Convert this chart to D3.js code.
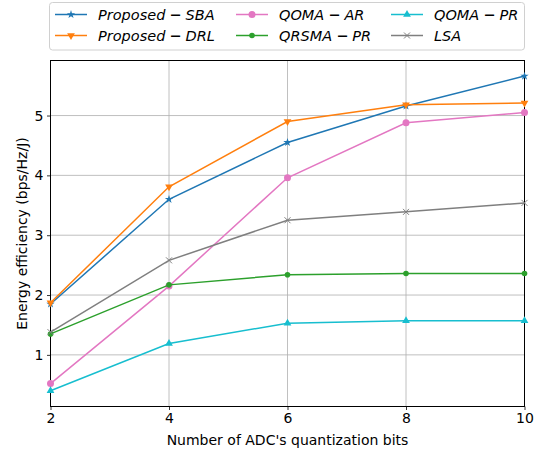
<!DOCTYPE html>
<html>
<head>
<meta charset="utf-8">
<script src="https://cdn.jsdelivr.net/npm/d3@7"></script>
<style>
  body { margin: 0; background: #fff; }
  text { font-family: "DejaVu Sans", sans-serif; fill: #000; }
</style>
</head>
<body>
<svg id="chart" width="546" height="452"></svg>
<script>
// data
var bits = [2, 4, 6, 8, 10];
var sba = [1.85, 3.60, 4.55, 5.16, 5.66];
var drl = [1.87, 3.81, 4.90, 5.18, 5.21];
var qomaAR = [0.52, 2.15, 3.96, 4.88, 5.05];
var qrsmaPR = [1.35, 2.17, 2.34, 2.36, 2.36];
var qomaPR = [0.40, 1.19, 1.53, 1.57, 1.57];
var lsa = [1.38, 2.58, 3.25, 3.39, 3.54];
var xTicks = [2, 4, 6, 8, 10];
var yTicks = [1, 2, 3, 4, 5];

var series = [
  {a: "Proposed", b: "SBA", vals: sba, color: "#1f77b4", marker: "star"},
  {a: "Proposed", b: "DRL", vals: drl, color: "#ff7f0e", marker: "tridown"},
  {a: "QOMA", b: "AR", vals: qomaAR, color: "#e377c2", marker: "circle"},
  {a: "QRSMA", b: "PR", vals: qrsmaPR, color: "#2ca02c", marker: "dot"},
  {a: "QOMA", b: "PR", vals: qomaPR, color: "#17becf", marker: "triup"},
  {a: "LSA", b: null, vals: lsa, color: "#7f7f7f", marker: "x"}
];

var svg = d3.select("#chart");
var pLeft = 50.5, pRight = 524.5, pTop = 60.5, pBottom = 406.5;

var x = d3.scaleLinear().domain([2, 10]).range([pLeft, pRight]);
var y = d3.scaleLinear().domain([0.137, 5.92]).range([pBottom, pTop]);

// grid
svg.append("g").selectAll("line").data(xTicks).enter().append("line")
  .attr("x1", function(d) { return x(d); }).attr("x2", function(d) { return x(d); })
  .attr("y1", pTop).attr("y2", pBottom)
  .attr("stroke", "#b0b0b0").attr("stroke-width", 0.8);
svg.append("g").selectAll("line").data(yTicks).enter().append("line")
  .attr("y1", function(d) { return y(d); }).attr("y2", function(d) { return y(d); })
  .attr("x1", pLeft).attr("x2", pRight)
  .attr("stroke", "#b0b0b0").attr("stroke-width", 0.8);

// axes
var xAxis = svg.append("g").attr("transform", "translate(0," + pBottom + ")")
  .call(d3.axisBottom(x).tickValues(xTicks).tickSize(3.5).tickPadding(3.5).tickFormat(d3.format("d")));
var yAxis = svg.append("g").attr("transform", "translate(" + pLeft + ",0)")
  .call(d3.axisLeft(y).tickValues(yTicks).tickSize(3.5).tickPadding(3.5).tickFormat(d3.format("d")));
[xAxis, yAxis].forEach(function(g) {
  g.select(".domain").remove();
  g.selectAll("text").style("font-family", "DejaVu Sans").style("font-size", "14px");
  g.selectAll("line").attr("stroke", "#000").attr("stroke-width", 0.8);
});

svg.append("rect").attr("x", pLeft).attr("y", pTop)
  .attr("width", pRight - pLeft).attr("height", pBottom - pTop)
  .attr("fill", "none").attr("stroke", "#000").attr("stroke-width", 1);

svg.append("text").attr("x", (pLeft + pRight) / 2).attr("y", 445)
  .attr("text-anchor", "middle").style("font-size", "14px")
  .text("Number of ADC's quantization bits");
svg.append("text").attr("transform", "translate(27," + (pTop + pBottom) / 2 + ") rotate(-90)")
  .attr("text-anchor", "middle").style("font-size", "14px")
  .text("Energy efficiency (bps/Hz/J)");

function drawMarker(g, kind, cx, cy, color) {
  if (kind == "star") {
    g.append("path").attr("d", d3.symbol(d3.symbolStar, 22)()).attr("transform", "translate(" + cx + "," + cy + ")")
      .attr("fill", color);
  } else if (kind == "tridown") {
    g.append("path").attr("d", d3.symbol(d3.symbolTriangle, 26)()).attr("transform", "translate(" + cx + "," + cy + ") rotate(180)")
      .attr("fill", color);
  } else if (kind == "triup") {
    g.append("path").attr("d", d3.symbol(d3.symbolTriangle, 26)()).attr("transform", "translate(" + cx + "," + cy + ")")
      .attr("fill", color);
  } else if (kind == "circle") {
    g.append("circle").attr("cx", cx).attr("cy", cy).attr("r", 3.5).attr("fill", color);
  } else if (kind == "dot") {
    g.append("circle").attr("cx", cx).attr("cy", cy).attr("r", 2.8).attr("fill", color);
  } else if (kind == "x") {
    g.append("path").attr("d", "M-3,-3L3,3M-3,3L3,-3")
      .attr("transform", "translate(" + cx + "," + cy + ")")
      .attr("stroke", color).attr("stroke-width", 1);
  }
}

var line = d3.line().x(function(d, i) { return x(bits[i]); }).y(function(d) { return y(d); });
var plot = svg.append("g");
series.forEach(function(s) {
  var g = plot.append("g");
  g.append("path").datum(s.vals).attr("d", line)
    .attr("fill", "none").attr("stroke", s.color).attr("stroke-width", 1.5);
  s.vals.forEach(function(v, i) { drawMarker(g, s.marker, x(bits[i]), y(v), s.color); });
});

// legend
var leg = svg.append("g");
leg.append("rect").attr("x", 49.5).attr("y", 2.5).attr("width", 475).attr("height", 47.5)
  .attr("rx", 3).attr("fill", "#fff").attr("fill-opacity", 0.8)
  .attr("stroke", "#d0d0d0").attr("stroke-width", 1);
var colX = [55, 236, 391];
var rowY = [14.5, 35.5];
series.forEach(function(s, i) {
  var cx = colX[Math.floor(i / 2)], cy = rowY[i % 2];
  leg.append("line").attr("x1", cx).attr("x2", cx + 32).attr("y1", cy).attr("y2", cy)
    .attr("stroke", s.color).attr("stroke-width", 1.5);
  drawMarker(leg, s.marker, cx + 16, cy, s.color);
  var t = leg.append("text").attr("x", cx + 43).attr("y", cy + 5.5).style("font-size", "14.5px");
  t.append("tspan").style("font-style", "italic").text(s.a);
  if (s.b) {
    t.append("tspan").attr("dx", 4).style("font-weight", "bold").text("\u2212");
    t.append("tspan").attr("dx", 4).style("font-style", "italic").text(s.b);
  }
});
</script>
</body>
</html>
